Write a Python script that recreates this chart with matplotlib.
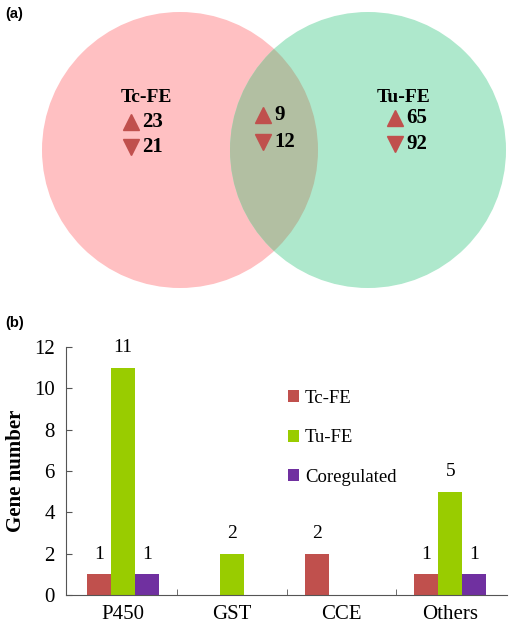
import matplotlib
matplotlib.use("Agg")
import matplotlib.pyplot as plt
from matplotlib.patches import Circle

# ---- data ----
venn_sets = ["Tc-FE", "Tu-FE"]
venn_up = [23, 9, 65]      # Tc only, shared, Tu only
venn_down = [21, 12, 92]

categories = ["P450", "GST", "CCE", "Others"]
series_names = ["Tc-FE", "Tu-FE", "Coregulated"]
tc_fe = [1, 0, 2, 1]
tu_fe = [11, 2, 0, 5]
coreg = [1, 0, 0, 1]
yticks = [0, 2, 4, 6, 8, 10, 12]

W, H = 510, 624
fig = plt.figure(figsize=(W / 100, H / 100), dpi=100)
serif = ["Liberation Serif", "DejaVu Serif"]

# ---- panel (a): Venn ----
axv = fig.add_axes([0, 0, 1, 1])
axv.set_xlim(0, W)
axv.set_ylim(H, 0)
axv.axis("off")
c1 = Circle((180, 150), 138, facecolor="#ffc0c2", edgecolor="none")
c2 = Circle((368, 150), 138, facecolor="#aee8cc", edgecolor="none")
axv.add_patch(c1)
axv.add_patch(c2)
ov = Circle((368, 150), 138, facecolor="#b2bfa2", edgecolor="none")
axv.add_patch(ov)
ov.set_clip_path(c1)

tri_col = "#c0504d"
groups = [
    (venn_sets[0], 146, 97, 131, [122, 147]),
    (None, None, None, 263, [115, 142]),
    (venn_sets[1], 404, 98, 395, [118, 144]),
]
for i, (name, nx, ny, tx, tys) in enumerate(groups):
    if name:
        axv.text(nx, ny, name, ha="center", va="center", fontsize=14,
                 fontweight="bold", family=serif)
    axv.plot(tx, tys[0], marker="^", color=tri_col, markersize=12, linestyle="none")
    axv.plot(tx, tys[1], marker="v", color=tri_col, markersize=12, linestyle="none")
    axv.text(tx + 11, tys[0], str(venn_up[i]), ha="left", va="center", fontsize=15,
             fontweight="bold", family=serif)
    axv.text(tx + 11, tys[1], str(venn_down[i]), ha="left", va="center", fontsize=15,
             fontweight="bold", family=serif)

axv.text(5, 14, "(a)", ha="left", va="center", fontsize=10.5, fontweight="bold",
         family=["Liberation Sans", "DejaVu Sans"])
axv.text(5, 323, "(b)", ha="left", va="center", fontsize=10.5, fontweight="bold",
         family=["Liberation Sans", "DejaVu Sans"])

# ---- panel (b): bars ----
x0, x1 = 66, 507
y0, y1 = 595, 347
axb = fig.add_axes([x0 / W, (H - y0) / H, (x1 - x0) / W, (y0 - y1) / H])
colors = ["#c0504d", "#99cc00", "#7030a0"]
bw = 0.22
xs = list(range(len(categories)))
for k, (vals, col, nm) in enumerate(zip([tc_fe, tu_fe, coreg], colors, series_names)):
    pos = [x + (k - 1) * bw for x in xs]
    axb.bar(pos, vals, width=bw, color=col, label=nm, edgecolor="none")
    for p, v in zip(pos, vals):
        if v > 0:
            axb.text(p, v + 0.55, str(v), ha="center", va="bottom", fontsize=14,
                     family=serif)

axb.set_xlim(-0.52, 3.52)
axb.set_ylim(0, 12)
axb.set_yticks(yticks)
axb.set_xticks(xs)
axb.set_xticklabels(categories)
axb.set_xticks([0.5, 1.5, 2.5], minor=True)
axb.tick_params(axis="x", which="major", length=0, pad=7)
axb.tick_params(axis="x", which="minor", length=4, direction="in", color="#555555")
axb.tick_params(axis="y", direction="in", length=4, color="#555555", pad=8)
for lab in axb.get_xticklabels() + axb.get_yticklabels():
    lab.set_family(serif)
    lab.set_fontsize(15)
for s in ["top", "right"]:
    axb.spines[s].set_visible(False)
for s in ["left", "bottom"]:
    axb.spines[s].set_color("#555555")
axb.set_ylabel("Gene number", fontsize=15, fontweight="bold", family=serif, labelpad=6)

axb.legend(loc="upper left", bbox_to_anchor=(0.465, 0.895), frameon=False,
           prop={"family": serif, "size": 13.5}, handlelength=0.6, handleheight=0.6,
           handletextpad=0.3, labelspacing=1.2)

fig.savefig("out.png", dpi=100)
